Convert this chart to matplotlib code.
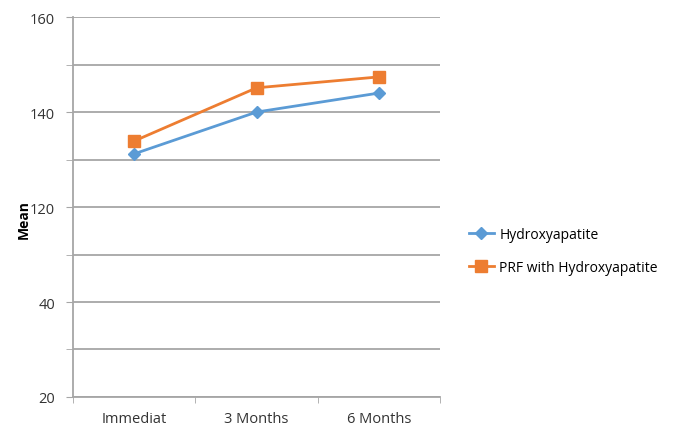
import matplotlib.pyplot as plt
from matplotlib.ticker import MultipleLocator

categories = ["Immediat", "3 Months", "6 Months"]
hydroxyapatite = [131.2, 140.0, 144.0]
prf_hydroxyapatite = [133.9, 145.1, 147.4]

ytick_values = [80, 100, 120, 140, 160]
ytick_labels = ["20", "40", "120", "140", "160"]

plt.rcParams["font.family"] = ["Open Sans", "DejaVu Sans"]

fig = plt.figure(figsize=(6.73, 4.31), dpi=100)
ax = fig.add_axes([0.1085, 0.0766, 0.5455, 0.8815])

x = range(len(categories))
ax.plot(x, hydroxyapatite, color="#5B9BD5", lw=2, marker="D", ms=6,
        label="Hydroxyapatite", zorder=3)
ax.plot(x, prf_hydroxyapatite, color="#ED7D31", lw=2, marker="s", ms=8,
        label="PRF with Hydroxyapatite", zorder=3)

ax.set_xlim(-0.5, 2.5)
ax.set_ylim(80, 160)
ax.set_yticks(ytick_values)
ax.set_yticklabels(ytick_labels)
ax.yaxis.set_minor_locator(MultipleLocator(10))
ax.grid(axis="y", which="both", color="#A6A6A6", lw=1.3)
ax.set_axisbelow(True)

ax.set_xticks(x)
ax.set_xticklabels(categories)
ax.set_xticks([-0.5, 0.5, 1.5, 2.5], minor=True)
ax.tick_params(axis="x", which="major", length=0, pad=10)
ax.tick_params(axis="x", which="minor", length=4, color="#A6A6A6")
ax.tick_params(axis="y", which="both", length=5, color="#A6A6A6", pad=8)
ax.tick_params(labelsize=10.5, labelcolor="#333333")

for side in ["top", "right"]:
    ax.spines[side].set_visible(False)
for side in ["left", "bottom"]:
    ax.spines[side].set_color("#A6A6A6")
    ax.spines[side].set_linewidth(1.3)

ax.set_ylabel("Mean", fontsize=10, fontweight="bold")
ax.yaxis.set_label_coords(-0.115, 0.47)

fig.legend(loc="upper left", bbox_to_anchor=(0.678, 0.5), frameon=False,
           fontsize=10, handlelength=1.8, handletextpad=0.4,
           labelspacing=1.3)

fig.savefig("out.png", dpi=100)
